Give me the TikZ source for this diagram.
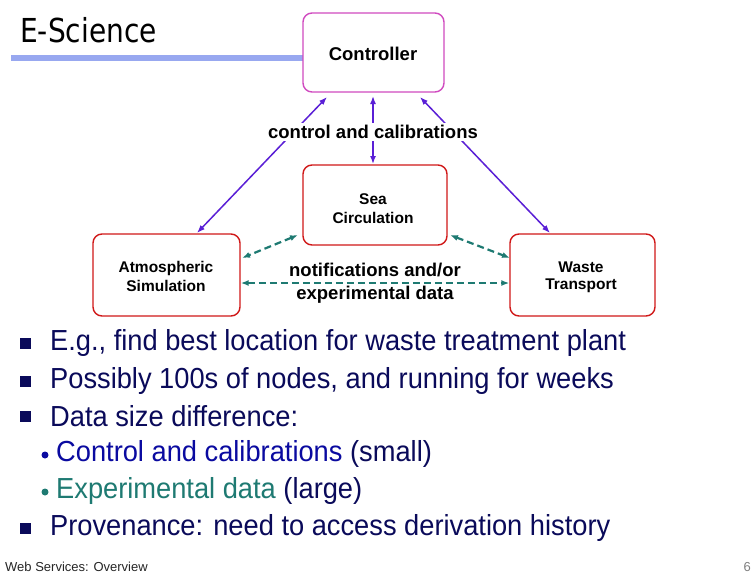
\documentclass[tikz,border=0pt]{standalone}
\usepackage{fontspec}
\setmainfont{Liberation Sans}
\newfontfamily\titlefont{DejaVu Sans}
\usetikzlibrary{arrows.meta}
\definecolor{pur}{HTML}{5A1FD6}
\definecolor{tealc}{HTML}{1E7A72}
\definecolor{navy}{HTML}{0A0A5A}
\definecolor{blu}{HTML}{0A0AA0}
\definecolor{mag}{HTML}{D04AC0}
\definecolor{redb}{HTML}{D01818}
\definecolor{barb}{HTML}{98A8F0}
\begin{document}
\begin{tikzpicture}[x=1pt,y=-1pt,
  box/.style={draw=redb,line width=1.4pt,rounded corners=9pt},
  lbl/.style={inner sep=0pt,font=\fontsize{15.5}{18}\selectfont\bfseries},
  big/.style={inner sep=0pt,font=\fontsize{18.5}{22}\selectfont\bfseries},
  ctl/.style={{Latex[length=8pt,width=6pt]}-{Latex[length=8pt,width=6pt]},draw=pur,line width=1.5pt},
  exp/.style={{Latex[length=8pt,width=6pt]}-{Latex[length=8pt,width=6pt]},draw=tealc,line width=2.2pt,dash pattern=on 7pt off 4pt},
  bul/.style={anchor=west,inner sep=0pt,font=\fontsize{29}{30}\selectfont,xscale=0.94,transform shape}]
\useasboundingbox (0,0) rectangle (756,576);
\fill[white] (0,0) rectangle (756,576);
\node[anchor=west,inner sep=0pt,font=\titlefont\fontsize{33}{35}\selectfont,xscale=0.85,transform shape] (title) at (20,30) {E-Science};
\draw[barb,line width=6pt] (11,58) -- (303,58);
\node[box,draw=mag,minimum width=141pt,minimum height=79pt] (ctrl) at (373.5,52.5) {};
\node[big] (ctrlt) at (373,54) {Controller};
\node[box,minimum width=144pt,minimum height=80pt] (sea) at (375,205) {};
\node[lbl] (sea1) at (373,199) {Sea};
\node[lbl] (sea2) at (373,218) {Circulation};
\node[box,minimum width=147pt,minimum height=82pt] (atm) at (166.5,275) {};
\node[lbl] (atm1) at (166,268) {Atmospheric};
\node[lbl] (atm2) at (166,286) {Simulation};
\node[box,minimum width=145pt,minimum height=82pt] (waste) at (582.5,275) {};
\node[lbl] (w1) at (581,267) {Waste};
\node[lbl] (w2) at (581,286) {Transport};
\coordinate (c1) at (327,97); \coordinate (a1) at (197,233);
\coordinate (c2) at (373,96); \coordinate (s2) at (373,164);
\coordinate (c3) at (420,97); \coordinate (w3) at (550,233);
\draw[ctl] (c1) -- (a1);
\draw[ctl] (c2) -- (s2);
\draw[ctl] (c3) -- (w3);
\node[big,fill=white,inner sep=2pt] (cc) at (373,132) {control and calibrations};
\draw[exp] (298,235) -- (242,258);
\draw[exp] (450,235) -- (510,258);
\draw[exp] (atm.east |- 0,283) -- (waste.west |- 0,283);
\node[big] (nt) at (375,270) {notifications and/or};
\node[big] (ed) at (375,295) {experimental data};
\begin{scope}[navy]
\fill (20,338) rectangle (31,349);
\node[bul] (b1) at (50,343) {E.g., find best location for waste treatment plant};
\fill (20,376) rectangle (31,387);
\node[bul] (b2) at (50,381) {Possibly 100s of nodes, and running for weeks};
\fill (20,411) rectangle (31,422);
\node[bul] (b3) at (50,416) {Data size difference:};
\fill[blu] (45,455) circle (3.5);
\node[bul] (b4) at (56,454) {\textcolor{blu}{Control and calibrations} (small)};
\fill[tealc] (45,492) circle (3.5);
\node[bul] (b5) at (56,491) {\textcolor{tealc}{Experimental data} (large)};
\fill (20,523) rectangle (31,534);
\node[bul] (b6) at (50,528) {Provenance: need to access derivation history};
\end{scope}
\node[anchor=west,inner sep=0pt,font=\fontsize{13}{14}\selectfont,gray!30!black] (ft) at (5,567) {Web Services: Overview};
\node[anchor=east,inner sep=0pt,font=\fontsize{13}{14}\selectfont,gray] (pg) at (751,567) {6};
\end{tikzpicture}
\end{document}
